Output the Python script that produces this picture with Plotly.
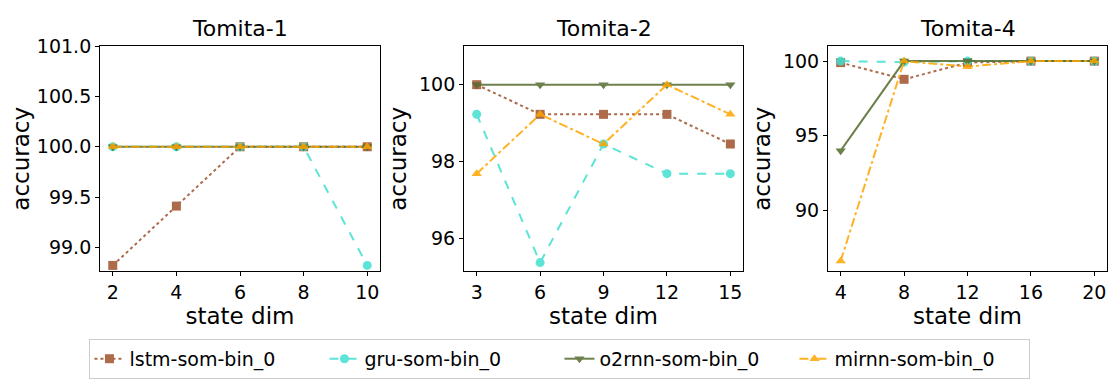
import plotly.graph_objects as go
from plotly.subplots import make_subplots

# x values (state dims) per task
tasks = ['Tomita-1', 'Tomita-2', 'Tomita-4']
dims_t1 = [2, 4, 6, 8, 10]
dims_t2 = [3, 6, 9, 12, 15]
dims_t4 = [4, 8, 12, 16, 20]

# accuracy per model, per task
lstm_t1 = [98.82, 99.41, 100.0, 100.0, 100.0]
gru_t1 = [100.0, 100.0, 100.0, 100.0, 98.82]
o2rnn_t1 = [100.0, 100.0, 100.0, 100.0, 100.0]
mirnn_t1 = [100.0, 100.0, 100.0, 100.0, 100.0]

lstm_t2 = [100.0, 99.23, 99.23, 99.23, 98.46]
gru_t2 = [99.23, 95.38, 98.46, 97.69, 97.69]
o2rnn_t2 = [100.0, 100.0, 100.0, 100.0, 100.0]
mirnn_t2 = [97.69, 99.23, 98.46, 100.0, 99.23]

lstm_t4 = [99.9, 98.78, 99.9, 100.0, 100.0]
gru_t4 = [100.0, 99.93, 100.0, 100.0, 100.0]
o2rnn_t4 = [94.0, 100.0, 100.0, 100.0, 100.0]
mirnn_t4 = [86.6, 100.0, 99.63, 100.0, 100.0]

models = ['lstm-som-bin_0', 'gru-som-bin_0', 'o2rnn-som-bin_0', 'mirnn-som-bin_0']
colors = ['#a0522d', '#40e0d0', '#556b2f', '#ffa500']
dashes = ['dot', 'dash', 'solid', 'dashdot']
symbols = ['square', 'circle', 'triangle-down', 'triangle-up']

panels = [
    (dims_t1, [lstm_t1, gru_t1, o2rnn_t1, mirnn_t1], [98.76, 101.0], [99.0, 99.5, 100.0, 100.5, 101.0], [1.6, 10.4]),
    (dims_t2, [lstm_t2, gru_t2, o2rnn_t2, mirnn_t2], [95.15, 101.0], [96, 98, 100], [2.4, 15.6]),
    (dims_t4, [lstm_t4, gru_t4, o2rnn_t4, mirnn_t4], [85.9, 101.0], [90, 95, 100], [3.2, 20.8]),
]

fig = make_subplots(rows=1, cols=3, subplot_titles=tasks)

for c, (xs, series, yr, yt, xr) in enumerate(panels, start=1):
    for i, ys in enumerate(series):
        fig.add_trace(go.Scatter(
            x=xs, y=ys, mode='lines+markers', name=models[i],
            legendgroup=models[i], showlegend=(c == 1),
            opacity=0.85,
            line=dict(color=colors[i], dash=dashes[i], width=2),
            marker=dict(symbol=symbols[i], size=9, color=colors[i]),
            hoverinfo='skip'), row=1, col=c)
    ytext = ['%.1f' % v for v in yt] if c == 1 else [str(v) for v in yt]
    fig.update_yaxes(range=yr, tickvals=yt, ticktext=ytext, row=1, col=c)
    fig.update_xaxes(range=xr, tickvals=xs, row=1, col=c)

# page body adds 8px margin, so the figure is 8px smaller
domains = [[0.0830, 0.3354], [0.4112, 0.6628], [0.7394, 0.9910]]
for c in range(1, 4):
    fig.update_xaxes(domain=domains[c - 1], row=1, col=c)
    fig.update_yaxes(domain=[0.3158, 0.9263], row=1, col=c)

fig.update_xaxes(title=dict(text='state dim', standoff=2), showgrid=False, zeroline=False,
                 showline=True, linecolor='black', linewidth=1, mirror=True,
                 ticks='outside', ticklen=4, tickcolor='black', tickfont=dict(size=19))
fig.update_yaxes(title=dict(text='accuracy', standoff=5), showgrid=False, zeroline=False,
                 showline=True, linecolor='black', linewidth=1, mirror=True,
                 ticks='outside', ticklen=4, tickcolor='black', tickfont=dict(size=19))

for k, ann in enumerate(fig.layout.annotations):
    ann.font = dict(size=22, color='black')
    ann.x = sum(domains[k]) / 2
    ann.y = 0.934
    ann.yanchor = 'bottom'

fig.update_layout(
    width=1109, height=380,
    margin=dict(l=0, r=0, t=0, b=0),
    paper_bgcolor='white', plot_bgcolor='white',
    font=dict(family='DejaVu Sans', size=19, color='black'),
    legend=dict(orientation='h', x=0.4977, xanchor='center', y=0.079, yanchor='middle',
                bordercolor='#cccccc', borderwidth=1, font=dict(size=19),
                itemwidth=30, entrywidth=190, tracegroupgap=0),
)

fig.write_html("out.html")
